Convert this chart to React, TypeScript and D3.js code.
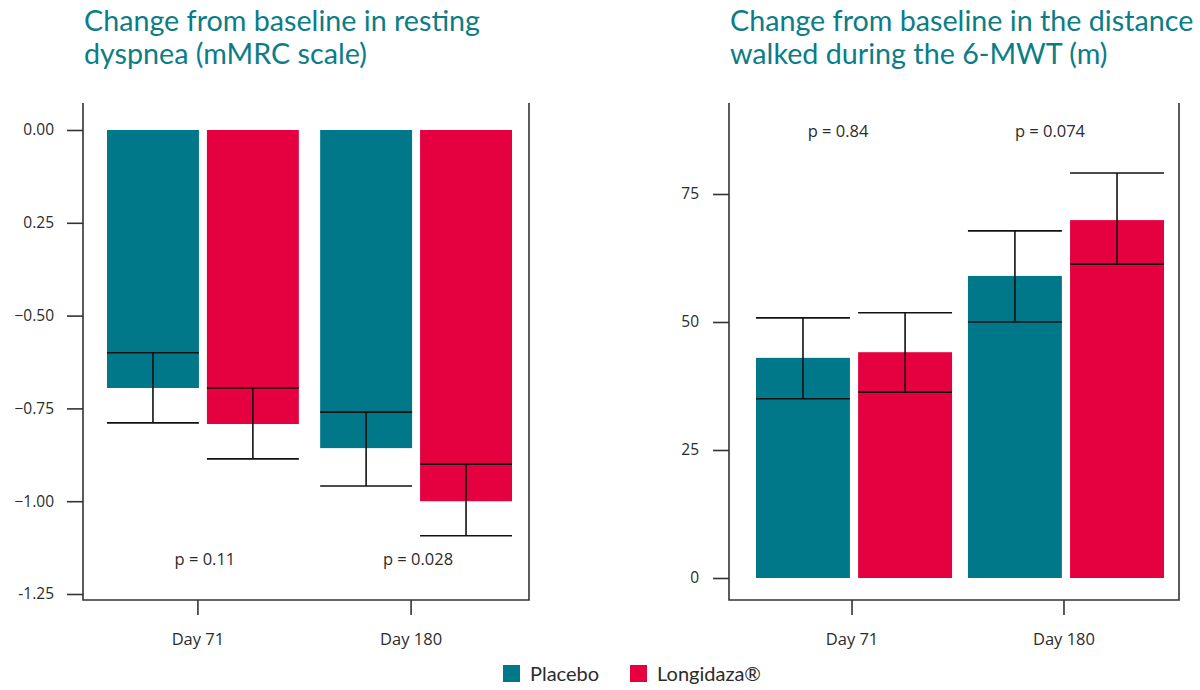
import React, { useEffect, useRef } from 'react';
import * as d3 from 'd3';

// categories
const days = ['Day 71', 'Day 180'];
const groups = ['Placebo', 'Longidaza®'];

// resting dyspnea (mMRC), change from baseline
const dyspneaPlacebo = [-0.695, -0.857];
const dyspneaPlaceboLow = [-0.789, -0.959];
const dyspneaPlaceboHigh = [-0.6, -0.76];
const dyspneaLongidaza = [-0.792, -1.0];
const dyspneaLongidazaLow = [-0.886, -1.093];
const dyspneaLongidazaHigh = [-0.695, -0.9];
const dyspneaP = ['p = 0.11', 'p = 0.028'];
const dyspneaTicks = [0, -0.25, -0.5, -0.75, -1, -1.25];
const dyspneaTickLabels = ['0.00', '0.25', '\u22120.50', '\u22120.75', '\u22121.00', '-1.25'];

// 6-MWT distance (m), change from baseline
const walkPlacebo = [43.0, 59.0];
const walkPlaceboLow = [35.0, 50.0];
const walkPlaceboHigh = [50.8, 67.8];
const walkLongidaza = [44.1, 69.9];
const walkLongidazaLow = [36.3, 61.3];
const walkLongidazaHigh = [51.8, 79.1];
const walkP = ['p = 0.84', 'p = 0.074'];
const walkTicks = [0, 25, 50, 75];
const walkTickLabels = ['0', '25', '50', '75'];

const TEAL = '#00788a';
const RED = '#e5003f';
const TITLE = '#0b7d86';
const INK = '#2b2b2b';
const TICK_FONT = '"Open Sans", "Noto Sans", sans-serif';
const TITLE_FONT = 'Lato, "Open Sans", sans-serif';

const W = 1200;
const H = 690;

interface PanelCfg {
  left: number;
  right: number;
  bandLeft: number;
  bandRight: number;
  bandPad: number;
  yDomain: [number, number];
  yRange: [number, number];
  ticks: number[];
  tickLabels: string[];
  means: number[][];
  lows: number[][];
  highs: number[][];
  pLabels: string[];
  pY: number;
  pShift: number;
  tickShift: number;
  title: string[];
  labelRight: number;
}

function drawPanel(svg: d3.Selection<SVGSVGElement, unknown, null, undefined>, c: PanelCfg) {
  const top = 103;
  const bottom = 600;
  const g = svg.append('g');

  const x = d3.scaleBand<string>().domain(days).range([c.bandLeft, c.bandRight]).paddingInner(c.bandPad);
  const xSub = d3.scaleBand<string>().domain(groups).range([0, x.bandwidth()]).paddingInner(0.08);
  const y = d3.scaleLinear().domain(c.yDomain).range(c.yRange);
  const colors = [TEAL, RED];

  const rows: { day: string; grp: string; gi: number; v: number; lo: number; hi: number }[] = [];
  days.forEach((day, di) => {
    groups.forEach((grp, gi) => {
      rows.push({ day, grp, gi, v: c.means[gi][di], lo: c.lows[gi][di], hi: c.highs[gi][di] });
    });
  });

  // bars
  g.selectAll('rect.bar')
    .data(rows)
    .join('rect')
    .attr('class', 'bar')
    .attr('x', d => (x(d.day) || 0) + (xSub(d.grp) || 0))
    .attr('width', xSub.bandwidth())
    .attr('y', d => Math.min(y(0), y(d.v)))
    .attr('height', d => Math.abs(y(d.v) - y(0)))
    .attr('fill', d => colors[d.gi]);

  // error bars
  const eb = g.selectAll('g.err').data(rows).join('g').attr('class', 'err');
  eb.append('line')
    .attr('x1', d => (x(d.day) || 0) + (xSub(d.grp) || 0) + xSub.bandwidth() / 2)
    .attr('x2', d => (x(d.day) || 0) + (xSub(d.grp) || 0) + xSub.bandwidth() / 2)
    .attr('y1', d => y(d.lo))
    .attr('y2', d => y(d.hi));
  eb.selectAll('line.cap')
    .data(d => [d.lo, d.hi].map(val => ({ d, val })))
    .join('line')
    .attr('class', 'cap')
    .attr('x1', e => (x(e.d.day) || 0) + (xSub(e.d.grp) || 0))
    .attr('x2', e => (x(e.d.day) || 0) + (xSub(e.d.grp) || 0) + xSub.bandwidth())
    .attr('y1', e => y(e.val))
    .attr('y2', e => y(e.val));
  eb.selectAll('line').attr('stroke', '#111').attr('stroke-width', 1.6);

  // frame: left, bottom, right
  g.append('path')
    .attr('d', `M${c.left},${top}V${bottom}H${c.right}V${top}`)
    .attr('fill', 'none')
    .attr('stroke', '#333')
    .attr('stroke-width', 1.6);

  // y axis ticks
  const yAxis = d3.axisLeft(y)
    .tickValues(c.ticks)
    .tickSize(16)
    .tickPadding(c.left - 16 - c.labelRight)
    .tickFormat((_, i) => c.tickLabels[i]);
  const ya = g.append('g').attr('transform', `translate(${c.left},0)`).call(yAxis);
  ya.select('.domain').remove();
  ya.selectAll('line').attr('stroke', '#333').attr('stroke-width', 1.6);
  ya.selectAll('text')
    .attr('font-family', TICK_FONT)
    .attr('font-size', 15.5)
    .attr('fill', INK);

  // x axis ticks
  const xc = d3.scaleOrdinal<string, number>().domain(days).range(days.map(d => (x(d) || 0) + x.bandwidth() / 2));
  const xa = g.append('g').attr('transform', `translate(0,${bottom})`);
  days.forEach(d => {
    const tx = xc(d) + c.tickShift;
    xa.append('line').attr('x1', tx).attr('x2', tx).attr('y1', 0).attr('y2', 15)
      .attr('stroke', '#333').attr('stroke-width', 1.6);
    xa.append('text').attr('x', tx).attr('y', 45).attr('text-anchor', 'middle')
      .attr('font-family', TICK_FONT).attr('font-size', 16.5).attr('fill', INK).text(d);
  });

  // p values
  days.forEach((d, i) => {
    g.append('text').attr('x', xc(d) + c.pShift).attr('y', c.pY).attr('text-anchor', 'middle')
      .attr('font-family', TICK_FONT).attr('font-size', 16.5).attr('fill', INK).text(c.pLabels[i]);
  });

  // title
  c.title.forEach((line, i) => {
    g.append('text').attr('x', c.left + 1).attr('y', 31 + i * 33)
      .attr('font-family', TITLE_FONT).attr('font-size', 28.7).attr('fill', TITLE).text(line);
  });
}

const App: React.FC = () => {
  const svgRef = useRef<SVGSVGElement>(null);

  useEffect(() => {
    if (!svgRef.current) return;
    const svg = d3.select(svgRef.current);
    svg.selectAll('*').remove();

    drawPanel(svg, {
      left: 83,
      right: 529,
      bandLeft: 107,
      bandRight: 512,
      bandPad: 0.1,
      yDomain: [0, -1.25],
      yRange: [130, 594],
      ticks: dyspneaTicks,
      tickLabels: dyspneaTickLabels,
      means: [dyspneaPlacebo, dyspneaLongidaza],
      lows: [dyspneaPlaceboLow, dyspneaLongidazaLow],
      highs: [dyspneaPlaceboHigh, dyspneaLongidazaHigh],
      pLabels: dyspneaP,
      pY: 565,
      pShift: 2,
      tickShift: -5,
      title: ['Change from baseline in resting', 'dyspnea (mMRC scale)'],
      labelRight: 54,
    });

    drawPanel(svg, {
      left: 729,
      right: 1179,
      bandLeft: 756,
      bandRight: 1164,
      bandPad: 0.075,
      yDomain: [0, 75],
      yRange: [578, 194],
      ticks: walkTicks,
      tickLabels: walkTickLabels,
      means: [walkPlacebo, walkLongidaza],
      lows: [walkPlaceboLow, walkLongidazaLow],
      highs: [walkPlaceboHigh, walkLongidazaHigh],
      pLabels: walkP,
      pY: 137,
      pShift: -16,
      tickShift: -2,
      title: ['Change from baseline in the distance', 'walked during the 6-MWT (m)'],
      labelRight: 699,
    });

    // legend
    const legend = svg.append('g').attr('transform', `translate(503, 665)`);
    const legendX = [0, 127];
    groups.forEach((grp, i) => {
      const item = legend.append('g').attr('transform', `translate(${legendX[i]},0)`);
      item.append('rect').attr('width', 17).attr('height', 17).attr('fill', i === 0 ? TEAL : RED);
      item.append('text').attr('x', 27).attr('y', 15.5)
        .attr('font-family', TITLE_FONT).attr('font-size', 20).attr('fill', INK).text(grp);
    });
  }, []);

  return (
    <svg
      ref={svgRef}
      width={W}
      height={H}
      style={{ position: 'absolute', left: 0, top: 0, background: '#fff' }}
    />
  );
};

export default App;
